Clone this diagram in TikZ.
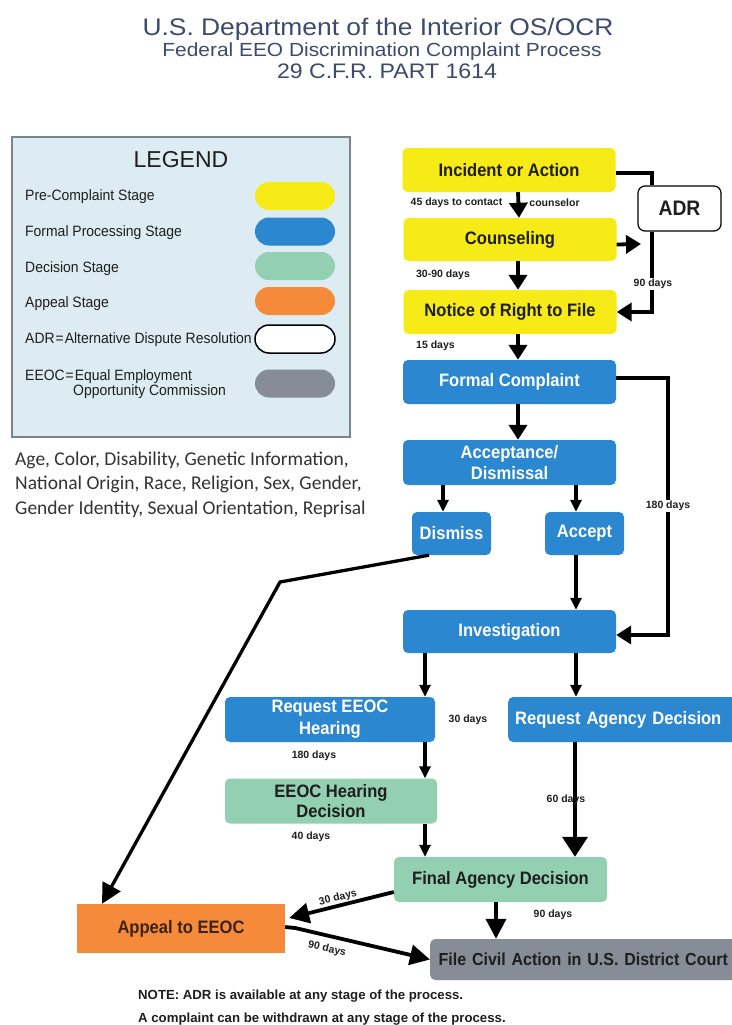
\documentclass[tikz,border=0pt]{standalone}
\usepackage{fontspec}
\setmainfont{Liberation Sans}
\newfontfamily\cf[FakeStretch=0.92]{Liberation Sans}
\newfontfamily\tf[FakeStretch=1.1]{Liberation Sans}
\newfontfamily\lgf[FakeStretch=0.93]{Liberation Sans}
\newfontfamily\calib{Carlito}
\usetikzlibrary{arrows.meta}
\definecolor{cyel}{HTML}{F6EB16}
\definecolor{cblue}{HTML}{2B87D0}
\definecolor{cgreen}{HTML}{93CFB1}
\definecolor{corange}{HTML}{F58A3B}
\definecolor{cgray}{HTML}{878D97}
\definecolor{clegbg}{HTML}{DDECF3}
\definecolor{clegb}{HTML}{7A868C}
\definecolor{ctitle}{HTML}{3D4A6B}
\definecolor{cdark}{HTML}{1E1E1E}
\definecolor{cbrown}{HTML}{3A2214}
\begin{document}
\begin{tikzpicture}[x=1pt,y=-1pt,
  box/.style={rounded corners=5pt, inner sep=0pt, align=center, font=\cf\bfseries\fontsize{18}{21}\selectfont},
  ybox/.style={box, fill=cyel, text=cdark, minimum width=213pt, minimum height=44pt},
  bbox/.style={box, fill=cblue, text=white, minimum width=213pt, minimum height=44pt},
  gbox/.style={box, fill=cgreen, text=cdark, minimum width=212pt, minimum height=45pt},
  pill/.style={minimum width=80pt, minimum height=28pt, rounded corners=14pt, inner sep=0pt},
  legtxt/.style={anchor=base west, inner sep=0pt, text=cdark, font=\lgf\fontsize{15}{17}\selectfont},
  lab/.style={inner sep=1pt, text=cdark, font=\bfseries\fontsize{10.5}{12}\selectfont},
  ln/.style={line width=3.8pt, black},
  abig/.style={ln, -{Triangle[width=18pt,length=15pt]}},
  asmall/.style={ln, -{Triangle[width=11pt,length=12pt]}},
  amid/.style={ln, -{Triangle[width=20pt,length=20pt]}},
  ahuge/.style={ln, -{Triangle[width=25pt,length=20pt]}},
  prot/.style={anchor=base west, inner sep=0pt, text=black!80, font=\calib\fontsize{19.5}{24}\selectfont},
  note/.style={anchor=base west, inner sep=0pt, text=cdark, font=\bfseries\fontsize{13.2}{15}\selectfont}
]
\useasboundingbox (0,0) rectangle (731,1025);
\fill[white] (0,0) rectangle (731,1025);

% title
\node[anchor=base, inner sep=0pt, text=ctitle, font=\tf\fontsize{24}{28}\selectfont] (t1) at (378,36) {U.S. Department of the Interior OS/OCR};
\node[anchor=base, inner sep=0pt, text=ctitle, font=\tf\fontsize{19}{22}\selectfont] (t2) at (382,57) {Federal EEO Discrimination Complaint Process};
\node[anchor=base, inner sep=0pt, text=ctitle, font=\tf\fontsize{21}{24}\selectfont] (t3) at (387,78) {29 C.F.R. PART 1614};

% legend
\node[draw=clegb, fill=clegbg, line width=1.2pt, minimum width=338pt, minimum height=300pt, inner sep=0pt] (legend) at (181,287) {};
\node[anchor=base, inner sep=0pt, text=cdark, font=\fontsize{23}{26}\selectfont] (legt) at (181,167) {LEGEND};
\node[legtxt] (lg1) at (25,200.5) {Pre-Complaint Stage};
\node[legtxt] (lg2) at (25,236) {Formal Processing Stage};
\node[legtxt] (lg3) at (25,272.5) {Decision Stage};
\node[legtxt] (lg4) at (25,307.5) {Appeal Stage};
\node[legtxt] (lg5) at (25,343.5) {ADR\kern1pt=\kern1pt Alternative Dispute Resolution};
\node[legtxt] (lg6) at (25,380) {EEOC\kern1pt=\kern1pt Equal Employment};
\node[legtxt] (lg7) at (73,395.5) {Opportunity Commission};
\node[pill, fill=cyel] (p1) at (295,196) {};
\node[pill, fill=cblue] (p2) at (295,231.5) {};
\node[pill, fill=cgreen] (p3) at (295,266) {};
\node[pill, fill=corange] (p4) at (295,301) {};
\node[pill, fill=white, draw=black, line width=1.5pt] (p5) at (295,339) {};
\node[pill, fill=cgray] (p6) at (295,383.5) {};

% protected classes
\node[prot] (pc1) at (15,465) {Age, Color, Disability, Genetic Information,};
\node[prot] (pc2) at (15,489.5) {National Origin, Race, Religion, Sex, Gender,};
\node[prot] (pc3) at (15,514) {Gender Identity, Sexual Orientation, Reprisal};

% flow boxes
\node[ybox] (inc) at (509,170) {Incident or Action};
\node[ybox, minimum height=43pt] (couns) at (510,239.5) {Counseling};
\node[ybox] (notice) at (510,312) {Notice of Right to File};
\node[box, fill=white, draw=black, line width=1.2pt, rounded corners=7pt, minimum width=83pt, minimum height=45pt, text=cdark, font=\cf\bfseries\fontsize{21}{24}\selectfont] (adr) at (679.5,208.5) {ADR};
\node[bbox] (formal) at (509.5,382) {Formal Complaint};
\node[bbox, minimum height=45pt] (accdis) at (509.5,462.5) {Acceptance/\\[0pt]Dismissal};
\node[bbox, minimum width=79pt, minimum height=43pt] (dismiss) at (451.5,533.5) {Dismiss};
\node[bbox, minimum width=79pt, minimum height=43pt] (accept) at (584.5,533.5) {Accept};
\node[bbox, minimum height=43pt] (invest) at (509.5,631.5) {Investigation};
\node[bbox, minimum width=210pt, minimum height=45pt, font=\cf\bfseries\fontsize{18}{22}\selectfont] (reqeeoc) at (330,719.5) {Request EEOC\\Hearing};
\node[bbox, anchor=west, minimum width=0pt, minimum height=45pt, text width=240pt, align=left, inner xsep=7pt] (reqag) at (508,719.5) {Request Agency Decision};
\node[gbox, font=\cf\bfseries\fontsize{18}{20}\selectfont] (ehd) at (331,801) {EEOC Hearing\\Decision};
\node[gbox, minimum width=213pt] (fad) at (500.5,879.5) {Final Agency Decision};
\node[box, rounded corners=0pt, fill=corange, text=cbrown, minimum width=208pt, minimum height=49pt] (appeal) at (181,928.5) {Appeal to EEOC};
\node[box, fill=cgray, text=cdark, anchor=west, minimum height=41pt, text width=340pt, align=left, inner xsep=8.5pt, font=\cf\bfseries\fontsize{17.4}{20}\selectfont] (civil) at (430,959.5) {File Civil Action in U.S. District Court};

% connectors
\coordinate (adrhit) at (641,244);
\coordinate (bend) at (280,582);
\draw[abig] ([xshift=9pt]inc.south) -- ([xshift=9pt]couns.north);
\draw[abig] ([xshift=8pt]couns.south) -- ([xshift=8pt]notice.north);
\draw[abig] ([xshift=8pt]notice.south) -- ([xshift=8.5pt]formal.north);
\draw[ln] ([yshift=-3pt]inc.east) -| ([xshift=-27.5pt]adr.north);
\draw[abig] ([yshift=-5pt]couns.east) -- (adrhit);
\draw[abig] ([xshift=-27.5pt]adr.south) |- (notice.east);
\draw[abig] ([xshift=8.5pt]formal.south) -- ([xshift=8.5pt]accdis.north);
\draw[asmall] ([xshift=-66.5pt]accdis.south) -- ([xshift=-8.5pt]dismiss.north);
\draw[asmall] ([xshift=66.5pt]accdis.south) -- ([xshift=-8.5pt]accept.north);
\draw[asmall] ([xshift=-8.5pt]accept.south) -- ([xshift=66.5pt]invest.north);
\draw[abig] ([yshift=4pt]formal.east) -- ++(52,0) |- ([yshift=-3.5pt]invest.east);
\draw[asmall] ([xshift=-84.5pt]invest.south) -- ([xshift=95pt]reqeeoc.north);
\draw[asmall] ([xshift=66.5pt]invest.south) -- ([xshift=68pt]reqag.north west);
\draw[asmall] ([xshift=95pt]reqeeoc.south) -- ([xshift=94pt]ehd.north);
\draw[asmall] ([xshift=94pt]ehd.south) -- ([xshift=-75.5pt]fad.north);
\draw[ahuge] ([xshift=67pt]reqag.south west) -- ([xshift=74.5pt]fad.north);
\draw[amid] ([xshift=-4.5pt]fad.south) -- ([xshift=66pt]civil.north west);
\draw[amid] ([yshift=-12.5pt]fad.west) -- ([xshift=4pt,yshift=10.5pt]appeal.east);
\draw[amid] ([yshift=1.5pt]appeal.east) -- ++(10,1) -- (civil.west);
\draw[amid, line width=3.3pt] ([xshift=-22.5pt]dismiss.south) -- (bend) -- ([xshift=-79pt]appeal.north);

% labels
\node[lab] (l45) at (456.5,203) {45 days to contact};
\node[lab] (lcoun) at (554.5,203) {counselor};
\node[lab] (l3090) at (443,275) {30-90 days};
\node[lab, fill=white] (l90a) at (653,284) {90 days};
\node[lab] (l15) at (435.5,346) {15 days};
\node[lab, fill=white] (l180r) at (668,506) {180 days};
\node[lab] (l30) at (468,720) {30 days};
\node[lab] (l180l) at (314,756) {180 days};
\node[lab] (l40) at (311,837) {40 days};
\node[lab] (l60) at (566,800) {60 days};
\node[lab] (l90b) at (553,915) {90 days};
\node[lab, rotate=14] (l30d) at (338,898) {30 days};
\node[lab, rotate=-13] (l90d) at (327,949) {90 days};

% notes
\node[note] (n1) at (138,999) {NOTE: ADR is available at any stage of the process.};
\node[note] (n2) at (138,1022) {A complaint can be withdrawn at any stage of the process.};
\end{tikzpicture}
\end{document}
